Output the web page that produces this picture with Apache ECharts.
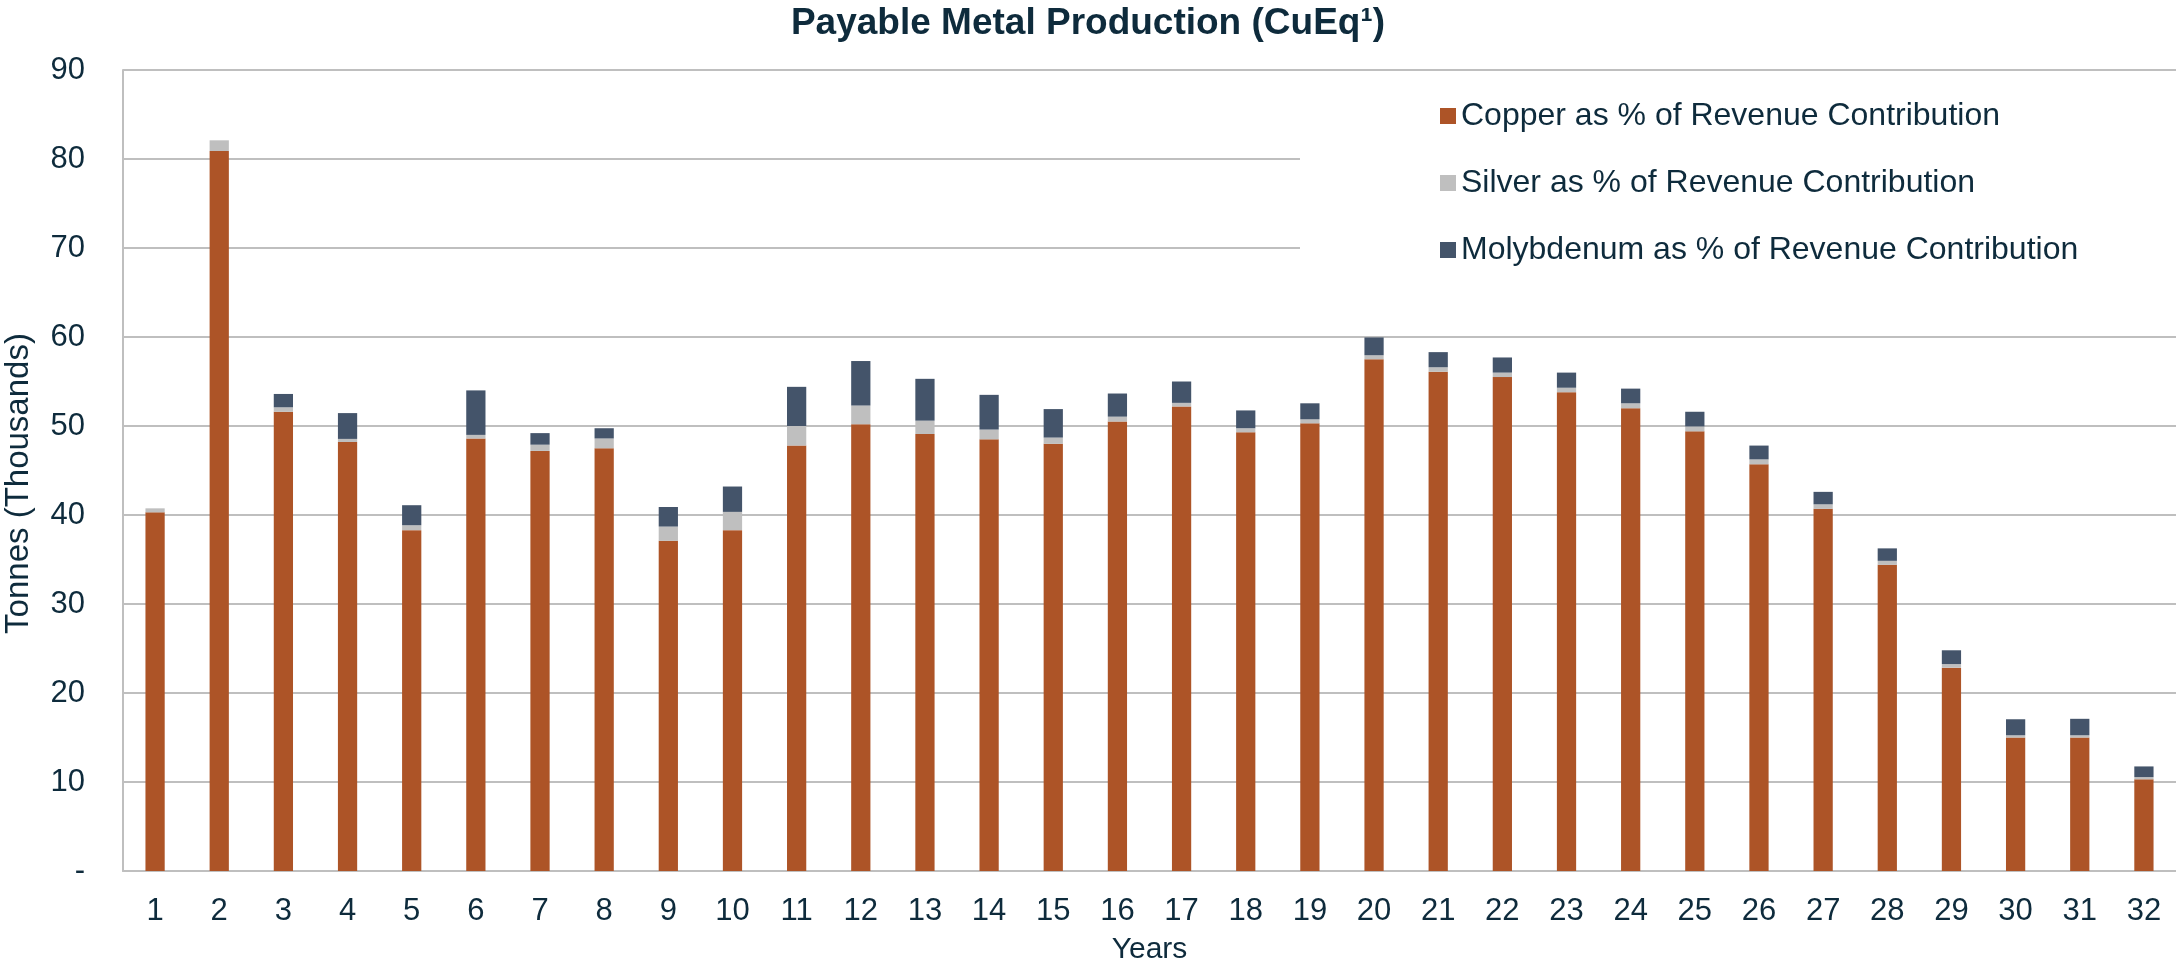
<!DOCTYPE html>
<html>
<head>
<meta charset="utf-8">
<script src="https://cdn.jsdelivr.net/npm/echarts@6/dist/echarts.min.js"></script>
<style>
  html, body { margin: 0; padding: 0; background: #fff; }
  #chart { width: 2176px; height: 965px; }
</style>
</head>
<body>
<div id="chart"></div>
<script>
// years 1..32
const years = ['1','2','3','4','5','6','7','8','9','10','11','12','13','14','15','16',
  '17','18','19','20','21','22','23','24','25','26','27','28','29','30','31','32']

// tonnes (thousands), stacked
const copper = [40.3, 80.9, 51.6, 48.2, 38.3, 48.6, 47.2, 47.5, 37.1, 38.3, 47.8, 50.2,
  49.1, 48.5, 48.0, 50.5, 52.2, 49.3, 50.3, 57.5, 56.1, 55.5, 53.8, 52.0,
  49.4, 45.7, 40.7, 34.4, 22.85, 15.0, 15.0, 10.3]
const silver = [0.45, 1.2, 0.5, 0.35, 0.55, 0.4, 0.7, 1.1, 1.6, 2.05, 2.2, 2.1,
  1.5, 1.1, 0.7, 0.55, 0.4, 0.45, 0.45, 0.45, 0.5, 0.5, 0.5, 0.55,
  0.55, 0.55, 0.5, 0.45, 0.4, 0.25, 0.25, 0.25]
const molybdenum = [0, 0, 1.5, 2.9, 2.25, 5.0, 1.3, 1.15, 2.2, 2.85, 4.4, 5.0,
  4.7, 3.9, 3.2, 2.6, 2.4, 2.0, 1.8, 2.0, 1.7, 1.7, 1.7, 1.65,
  1.65, 1.55, 1.4, 1.4, 1.55, 1.8, 1.85, 1.2]

const seriesNames = [
  'Copper as % of Revenue Contribution',
  'Silver as % of Revenue Contribution',
  'Molybdenum as % of Revenue Contribution'
]
const colors = ['#AD5427', '#BFBFBF', '#44546A']

const textColor = '#0E2B3C'
const font = '"Liberation Sans", Arial, sans-serif'

const chart = echarts.init(document.getElementById('chart'))

const makeSeries = (name, data, color) => ({
  name,
  type: 'bar',
  stack: 'total',
  data,
  barWidth: '30%',
  itemStyle: { color },
  emphasis: { disabled: true }
})

const option = {
  animation: false,
  textStyle: { fontFamily: font },
  title: {
    text: 'Payable Metal Production (CuEq¹)',
    left: 'center',
    top: 0,
    textStyle: { fontSize: 37, fontWeight: 'bold', color: textColor, fontFamily: font }
  },
  legend: {
    orient: 'vertical',
    left: 1300,
    top: 86,
    padding: [14, 300, 40, 140],
    backgroundColor: '#fff',
    icon: 'rect',
    itemWidth: 16,
    itemHeight: 16,
    itemGap: 35,
    textStyle: { fontSize: 32, color: textColor, fontFamily: font },
    data: seriesNames
  },
  grid: {
    left: 123,
    right: 0,
    top: 70,
    bottom: 94,
    outerBoundsMode: 'none'
  },
  xAxis: {
    type: 'category',
    data: years,
    name: 'Years',
    nameLocation: 'middle',
    nameGap: 64,
    nameTextStyle: { fontSize: 30, color: textColor },
    axisTick: { show: false },
    axisLine: { lineStyle: { color: '#BFBFBF', width: 2 } },
    axisLabel: { fontSize: 31, color: textColor, margin: 25 }
  },
  yAxis: {
    type: 'value',
    min: 0,
    max: 90,
    interval: 10,
    name: 'Tonnes (Thousands)',
    nameLocation: 'middle',
    nameGap: 88,
    nameTextStyle: { fontSize: 33, color: textColor, padding: [0, 26, 0, 0] },
    axisLine: { show: true, lineStyle: { color: '#BFBFBF', width: 2 } },
    axisTick: { show: false },
    axisLabel: {
      fontSize: 31,
      color: textColor,
      margin: 38,
      formatter: (v) => (v === 0 ? '-' : v)
    },
    splitLine: { lineStyle: { color: '#BFBFBF', width: 2 } }
  },
  series: [
    makeSeries(seriesNames[0], copper, colors[0]),
    makeSeries(seriesNames[1], silver, colors[1]),
    makeSeries(seriesNames[2], molybdenum, colors[2])
  ]
}

chart.setOption(option)
</script>
</body>
</html>
